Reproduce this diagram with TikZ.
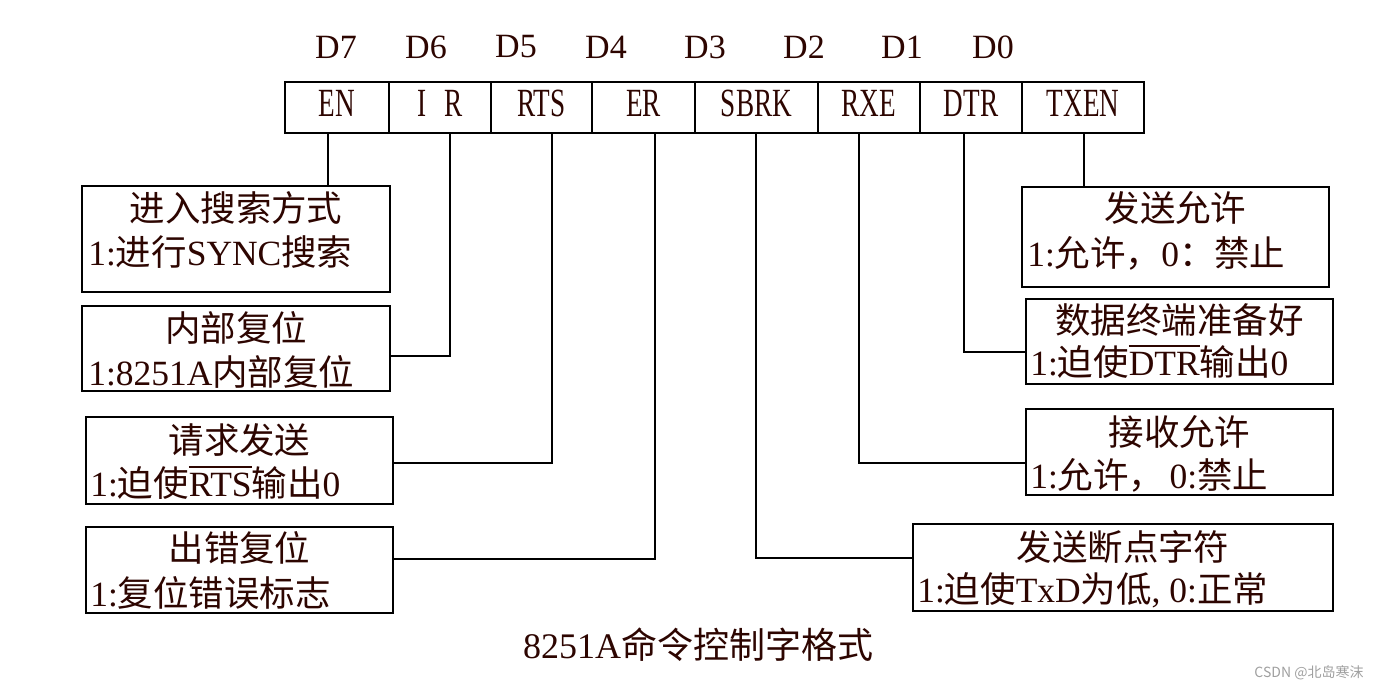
\documentclass[tikz,border=0pt]{standalone}
\usepackage{fontspec}
\setmainfont{Liberation Serif}
\newfontfamily\cjk{Noto Sans CJK SC}
\newfontfamily\narrowfont{Liberation Serif}[FakeStretch=0.68]
\usetikzlibrary{fit}
\definecolor{ink}{RGB}{45,5,0}
\definecolor{wmark}{RGB}{160,160,160}
\newcommand\ovl[1]{\setbox0\hbox{#1}\rlap{\raisebox{22pt}{\rule{\wd0}{1.1pt}}}\box0}
\begin{document}
\begin{tikzpicture}[x=0.75pt,y=-0.75pt,
 field/.style={draw,line width=1.5pt,inner sep=0,outer sep=0,minimum height=38.25pt,text depth=6pt,text=ink,font=\narrowfont\fontsize{30}{30}\selectfont},
 bitlab/.style={text=ink,font=\fontsize{25.5}{30}\selectfont,inner sep=0},
 box/.style={draw,line width=1.5pt,inner sep=0,outer sep=0},
 title/.style={text=ink,font=\cjk\fontsize{26.6}{30}\selectfont,inner sep=0},
 desc/.style={text=ink,font=\fontsize{26.6}{30}\selectfont,inner sep=0,anchor=west},
 wire/.style={line width=1.1pt}]
\fill[white] (0,0) rectangle (1392,691);
\useasboundingbox (0,0) rectangle (1392,691);

% bit labels
\node[bitlab] (d7) at (336,47) {D7};
\node[bitlab] (d6) at (426,47) {D6};
\node[bitlab] (d5) at (516,47) {D5};
\node[bitlab] (d4) at (606,47) {D4};
\node[bitlab] (d3) at (705,47) {D3};
\node[bitlab] (d2) at (804,47) {D2};
\node[bitlab] (d1) at (902,47) {D1};
\node[bitlab] (d0) at (993,47) {D0};

% register fields (widths in pt = px * 0.75)
\node[field,minimum width=78pt] (fEN) at (337,107.5) {EN};
\node[field,minimum width=76.5pt] (fIR) at (440,107.5) {I\hspace{14pt}R};
\node[field,minimum width=75.75pt] (fRTS) at (541.5,107.5) {RTS};
\node[field,minimum width=77.25pt] (fER) at (643.5,107.5) {ER};
\node[field,minimum width=92.25pt] (fSBRK) at (756.5,107.5) {SBRK};
\node[field,minimum width=76.5pt] (fRXE) at (869,107.5) {RXE};
\node[field,minimum width=76.5pt] (fDTR) at (971,107.5) {DTR};
\node[field,minimum width=91.5pt] (fTXEN) at (1083,107.5) {TXEN};

% description boxes
\node[box,fit={(82,186) (390,292)}] (b1) {};
\node[title] (t1) at (236,208) {进入搜索方式};
\node[desc] (l1) at (88,252) {1:{\cjk 进行}SYNC{\cjk 搜索}};

\node[box,fit={(82,306) (390,391)}] (b2) {};
\node[title] (t2) at (236,328) {内部复位};
\node[desc] (l2) at (88,372) {1:8251A{\cjk 内部复位}};

\node[box,fit={(86,417) (393,504)}] (b3) {};
\node[title] (t3) at (239.5,440) {请求发送};
\node[desc] (l3) at (90,483) {1:{\cjk 迫使}\ovl{RTS}{\cjk 输出}0};

\node[box,fit={(86,527) (393,613)}] (b4) {};
\node[title] (t4) at (239.5,548) {出错复位};
\node[desc] (l4) at (90,593) {1:{\cjk 复位错误标志}};

\node[box,fit={(1022,187) (1329,287)}] (b5) {};
\node[title] (t5) at (1175.5,208) {发送允许};
\node[desc] (l5) at (1027,253) {1:{\cjk 允许，}0{\cjk ：禁止}};

\node[box,fit={(1026,299) (1333,384)}] (b6) {};
\node[title] (t6) at (1179.5,320) {数据终端准备好};
\node[desc] (l6) at (1030,362) {1:{\cjk 迫使}\ovl{DTR}{\cjk 输出}0};

\node[box,fit={(1026,409) (1333,495)}] (b7) {};
\node[title] (t7) at (1179.5,432) {接收允许};
\node[desc] (l7) at (1030,475) {1:{\cjk 允许，}\hspace{4pt}0:{\cjk 禁止}};

\node[box,fit={(913,524) (1333,611)}] (b8) {};
\node[title] (t8) at (1123,547) {发送断点字符};
\node[desc] (l8) at (917,590) {1:{\cjk 迫使}TxD{\cjk 为低}, 0:{\cjk 正常}};

% connector anchor points
\coordinate (tEN) at (328,133);
\coordinate (tIR) at (450,133);
\coordinate (tRTS) at (552,133);
\coordinate (tER) at (655,133);
\coordinate (tSBRK) at (756,133);
\coordinate (tRXE) at (859,133);
\coordinate (tDTR) at (964,133);
\coordinate (tTXEN) at (1084,133);
\coordinate (eIR) at (390,356);
\coordinate (eRTS) at (393,463);
\coordinate (eER) at (393,559);
\coordinate (eSBRK) at (913,558);
\coordinate (eRXE) at (1026,463);
\coordinate (eDTR) at (1026,352);

\draw[wire] (tEN) -- (tEN |- b1.north);
\draw[wire] (tIR) |- (eIR);
\draw[wire] (tRTS) |- (eRTS);
\draw[wire] (tER) |- (eER);
\draw[wire] (tSBRK) |- (eSBRK);
\draw[wire] (tRXE) |- (eRXE);
\draw[wire] (tDTR) |- (eDTR);
\draw[wire] (tTXEN) -- (tTXEN |- b5.north);

% caption
\node[text=ink,font=\fontsize{27}{30}\selectfont,inner sep=0] (cap) at (698,645) {8251A{\cjk 命令控制字格式}};
\node[text=wmark,font=\cjk\fontsize{10.5}{12}\selectfont,inner sep=0] (wm) at (1309,673) {CSDN @北岛寒沫};
\end{tikzpicture}
\end{document}
